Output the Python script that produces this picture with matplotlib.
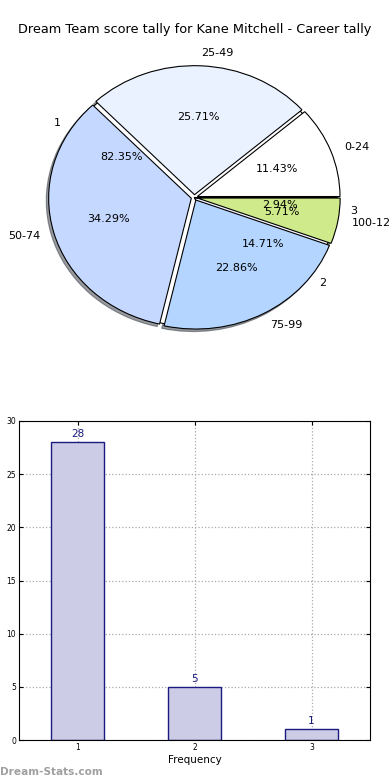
import matplotlib
matplotlib.use("Agg")
import matplotlib.pyplot as plt
import numpy as np

# score bins (outer pie)
score_bins = ["0-24", "25-49", "50-74", "75-99", "100-124"]
score_counts = [4, 9, 12, 8, 2]
score_colors = ["#ffffff", "#eaf2ff", "#c5d8ff", "#b4d5ff", "#ceea8a"]

# frequency of tallies (pie underneath + bar chart)
freq_labels = ["1", "2", "3"]
freq_counts = [28, 5, 1]
freq_colors = ["#ffffff", "#f4f4ff", "#808080"]

fig = plt.figure(figsize=(3.9, 7.8), dpi=100)

fig.text(0.5, 1 - 30 / 780, "Dream Team score tally for Kane Mitchell - Career tally",
         ha="center", va="center", fontsize=9.3)

# pie part
ax1 = fig.add_axes([0.041, 0.54, 0.9147, 0.4135])
ax1.pie(freq_counts, labels=freq_labels, colors=freq_colors, autopct="%1.2f%%",
        startangle=0, counterclock=True,
        wedgeprops={"edgecolor": "black", "linewidth": 0.8},
        textprops={"fontsize": 8})
ax1.pie(score_counts, labels=score_bins, colors=score_colors, autopct="%1.2f%%",
        explode=[0.022] * len(score_counts),
        shadow={"ox": -0.012, "oy": -0.014, "shade": 0.75}, startangle=0,
        wedgeprops={"edgecolor": "black", "linewidth": 0.8},
        textprops={"fontsize": 8})
ax1.set_aspect("auto")
ax1.set_xlim(-1.25, 1.25)
ax1.set_ylim(-1.25, 1.25)

# bar part
ax2 = fig.add_axes([19 / 390, 40 / 780, 351 / 390, 319 / 780])
x = np.arange(1, len(freq_counts) + 1)
bars = ax2.bar(x, freq_counts, width=0.45, color="#cccce6", edgecolor="#1a1a80", linewidth=1, zorder=2)
for b, v in zip(bars, freq_counts):
    ax2.text(b.get_x() + b.get_width() / 2, v + 0.3, str(v), ha="center", va="bottom",
             fontsize=7.5, color="#1a1a80")
ax2.set_xlim(0.5, 3.5)
ax2.set_ylim(0, 30)
ax2.set_xticks(x)
ax2.set_yticks(np.arange(0, 31, 5))
ax2.tick_params(direction="in", top=True, right=True, labelsize=5.5, length=3, pad=2)
ax2.grid(True, linestyle=":", color="#aaaaaa", linewidth=0.9, zorder=0)
ax2.set_axisbelow(True)
ax2.set_xlabel("Frequency", fontsize=7.5, labelpad=2)
ax2.set_ylabel("Score Tally", fontsize=7.5)
ax2.yaxis.set_label_coords(-0.055, 0.5)

fig.text(0.0, 8 / 780, "Dream-Stats.com", ha="left", va="center", fontsize=7.6,
         fontweight="bold", color="#a0a0a0")

fig.savefig("out.png", dpi=100)
